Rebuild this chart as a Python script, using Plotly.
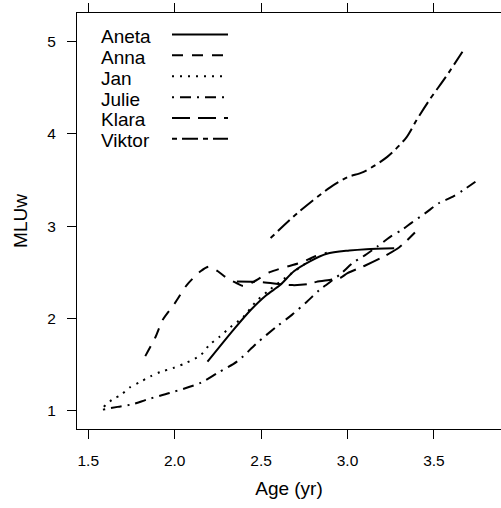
import plotly.graph_objects as go

# ---- data ----
children = ["Aneta", "Anna", "Jan", "Julie", "Klara", "Viktor"]

aneta_age = [2.19, 2.34, 2.44, 2.53, 2.61, 2.69, 2.78, 2.88, 3.01, 3.11, 3.27]
aneta_mlu = [1.53, 1.875, 2.09, 2.25, 2.36, 2.51, 2.615, 2.70, 2.735, 2.75, 2.76]

anna_age = [1.83, 1.89, 1.93, 2.00, 2.07, 2.15, 2.20, 2.25, 2.30, 2.36, 2.40, 2.47,
            2.55, 2.65, 2.74, 2.81, 2.88]
anna_mlu = [1.59, 1.80, 1.98, 2.16, 2.36, 2.51, 2.56, 2.51, 2.44, 2.38, 2.35, 2.41,
            2.50, 2.56, 2.61, 2.67, 2.71]

jan_age = [1.59, 1.64, 1.69, 1.74, 1.80, 1.86, 1.92, 1.99, 2.07, 2.15, 2.20, 2.26,
           2.32, 2.40, 2.47, 2.55, 2.67, 2.76, 2.81]
jan_mlu = [1.04, 1.12, 1.17, 1.25, 1.31, 1.37, 1.42, 1.46, 1.52, 1.60, 1.71, 1.80,
           1.90, 2.02, 2.18, 2.31, 2.48, 2.60, 2.69]

julie_age = [1.585, 1.67, 1.76, 1.84, 1.97, 2.15, 2.25, 2.36, 2.475, 2.59, 2.68, 2.765,
             2.84, 2.96, 3.03, 3.09, 3.17, 3.245, 3.315, 3.37, 3.45, 3.53, 3.60, 3.67, 3.74]
julie_mlu = [1.01, 1.04, 1.07, 1.12, 1.19, 1.30, 1.41, 1.53, 1.73, 1.91, 2.04, 2.18,
             2.31, 2.48, 2.60, 2.67, 2.775, 2.88, 2.96, 3.035, 3.14, 3.25, 3.31, 3.39, 3.48]

klara_age = [2.36, 2.49, 2.68, 2.77, 2.82, 2.91, 2.96, 3.00, 3.10, 3.22, 3.30, 3.39]
klara_mlu = [2.40, 2.395, 2.36, 2.37, 2.395, 2.42, 2.44, 2.49, 2.57, 2.68, 2.77, 2.93]

viktor_age = [2.555, 2.71, 2.90, 3.00, 3.09, 3.23, 3.34, 3.40, 3.475, 3.57, 3.665]
viktor_mlu = [2.87, 3.14, 3.42, 3.53, 3.585, 3.75, 3.96, 4.15, 4.37, 4.62, 4.89]

x_ticks = [1.5, 2.0, 2.5, 3.0, 3.5]
x_tick_labels = ["1.5", "2.0", "2.5", "3.0", "3.5"]
y_ticks = [1, 2, 3, 4, 5]
y_tick_labels = ["1", "2", "3", "4", "5"]

series = {
    "Aneta": (aneta_age, aneta_mlu),
    "Anna": (anna_age, anna_mlu),
    "Jan": (jan_age, jan_mlu),
    "Julie": (julie_age, julie_mlu),
    "Klara": (klara_age, klara_mlu),
    "Viktor": (viktor_age, viktor_mlu),
}

# ---- styles ----
dashes = {
    "Aneta": "solid",
    "Anna": "11px,9px",
    "Jan": "2px,6px",
    "Julie": "2px,6px,11px,6px",
    "Klara": "18px,8px",
    "Viktor": "5px,5px,16px,5px",
}
FONT = "Liberation Sans, Arial, sans-serif"
W, H = 501, 508
ML, MR, MT, MB = 77, 0, 13, 79
PW, PH = W - ML - MR, H - MT - MB

fig = go.Figure()
for name in children:
    xs, ys = series[name]
    fig.add_trace(go.Scatter(
        x=xs, y=ys, mode="lines", name=name, showlegend=False,
        line=dict(color="black", width=2, dash=dashes[name], shape="spline", smoothing=0.8),
    ))

# custom key (text left, line sample right), placed in pixel positions
def px2paper(px, py):
    return (px - ML) / PW, (H - MB - py) / PH

key_text_x = 99
key_line_x0, key_line_x1 = 172, 228
key_rows_y = [36.5, 57.3, 78.3, 99.3, 120.0, 140.8]
for name, ty in zip(children, key_rows_y):
    tx, typ = px2paper(key_text_x, ty)
    fig.add_annotation(x=tx, y=typ, xref="paper", yref="paper", text=name,
                       showarrow=False, xanchor="left", yanchor="middle",
                       font=dict(family=FONT, size=19, color="black"))
    lx0, ly = px2paper(key_line_x0, ty - 2)
    lx1, _ = px2paper(key_line_x1, ty - 2)
    fig.add_shape(type="line", xref="paper", yref="paper", x0=lx0, x1=lx1, y0=ly, y1=ly,
                  line=dict(color="black", width=2, dash=dashes[name]))

fig.update_layout(
    width=W, height=H,
    margin=dict(l=ML, r=MR, t=MT, b=MB, autoexpand=False),
    paper_bgcolor="white", plot_bgcolor="white",
    font=dict(family=FONT, color="black"),
)
fig.update_xaxes(
    range=[1.435, 3.888], tickvals=x_ticks, ticktext=x_tick_labels,
    ticks="outside", ticklen=9, tickwidth=1, tickcolor="black",
    showline=True, linecolor="black", linewidth=1, mirror="ticks",
    showgrid=False, zeroline=False,
    tickfont=dict(family=FONT, size=15.5, color="black"), ticklabelstandoff=8,
    title=dict(text="Age (yr)", font=dict(family=FONT, size=19, color="black"), standoff=14),
)
fig.update_yaxes(
    range=[0.80, 5.31], tickvals=y_ticks, ticktext=y_tick_labels,
    ticks="outside", ticklen=9, tickwidth=1, tickcolor="black",
    showline=True, linecolor="black", linewidth=1, mirror=False,
    showgrid=False, zeroline=False,
    tickfont=dict(family=FONT, size=15.5, color="black"), ticklabelstandoff=8,
    title=dict(text="MLUw", font=dict(family=FONT, size=19, color="black"), standoff=14),
)

fig.write_html("out.html")
